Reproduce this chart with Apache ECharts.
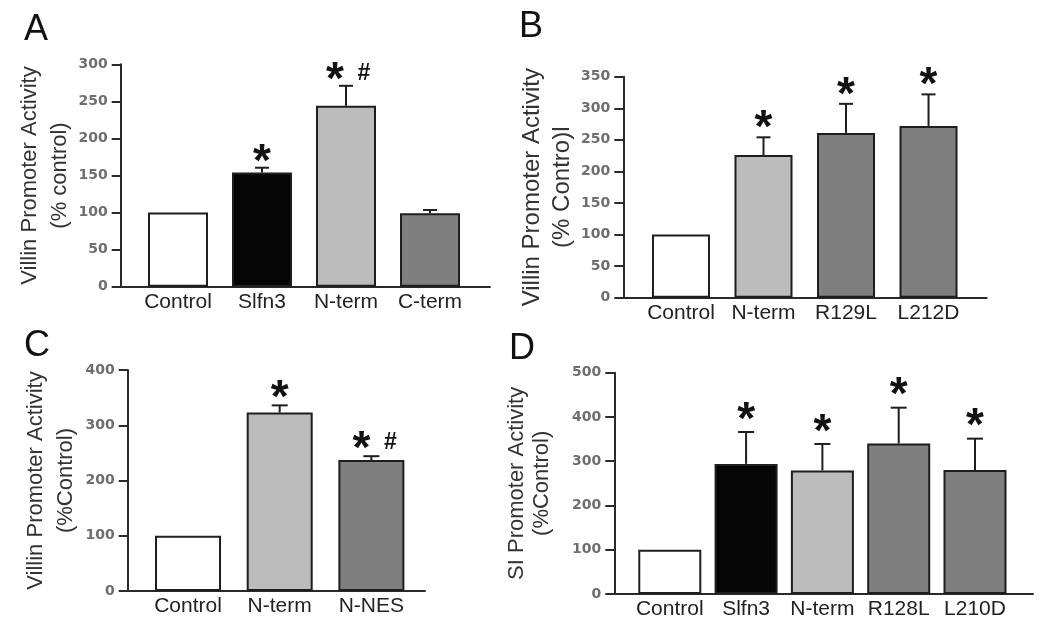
<!DOCTYPE html>
<html><head><meta charset="utf-8">
<script src="https://cdn.jsdelivr.net/npm/echarts@6/dist/echarts.min.js"></script>
<style>html,body{margin:0;padding:0;background:#fff}#c{width:1050px;height:621px}</style>
</head><body><div id="c"></div>
<script>
// ---------- data ----------
const catsA = ['Control', 'Slfn3', 'N-term', 'C-term'];
const meanA = [100, 154, 244, 99];
const semA  = [0, 6.5, 27, 4.5];
const sigA  = ['', '*', '*#', ''];
const ticksA = [0, 50, 100, 150, 200, 250, 300];

const catsB = ['Control', 'N-term', 'R129L', 'L212D'];
const meanB = [100, 226, 261, 272];
const semB  = [0, 28, 46, 50];
const sigB  = ['', '*', '*', '*'];
const ticksB = [0, 50, 100, 150, 200, 250, 300, 350];

const catsC = ['Control', 'N-term', 'N-NES'];
const meanC = [100, 323, 237];
const semC  = [0, 13, 7];
const sigC  = ['', '*', '*#'];
const ticksC = [0, 100, 200, 300, 400];

const catsD = ['Control', 'Slfn3', 'N-term', 'R128L', 'L210D'];
const meanD = [100, 294, 279, 340, 280];
const semD  = [0, 72, 60, 81, 71];
const sigD  = ['', '*', '*', '*', '*'];
const ticksD = [0, 100, 200, 300, 400, 500];

// ---------- styles ----------
const fillOf = {
  'Control': '#ffffff', 'Slfn3': '#050505', 'N-term': '#bcbcbc',
  'C-term': '#7f7f7f', 'R129L': '#7f7f7f', 'L212D': '#7f7f7f',
  'N-NES': '#7f7f7f', 'R128L': '#7f7f7f', 'L210D': '#7f7f7f'
};
const AX = '#2a2a2a';
const FONT = '"Liberation Sans", Arial, sans-serif';

const panels = [
  { letter: 'A', cats: catsA, mean: meanA, sem: semA, sig: sigA, ticks: ticksA,
    L: 120.7, R: 490, T: 64.3, B: 286.7, xMin: -0.682, xMax: 3.714,
    barW: 60, capW: 14, sigDy: -15, starDx: -11, hashDx: 18,
    name: 'Villin Promoter Activity\n(% control)', nameSize: 22, nameLH: 30, nameGap: 44,
    letterPos: [24, 12] },
  { letter: 'B', cats: catsB, mean: meanB, sem: semB, sig: sigB, ticks: ticksB,
    L: 623.3, R: 986.7, T: 76.7, B: 297.7, xMin: -0.699, xMax: 3.705,
    barW: 58, capW: 14, sigDy: -19, starDx: 0, hashDx: 0,
    name: 'Villin Promoter Activity\n(% Contro)l', nameSize: 24, nameLH: 30, nameGap: 46,
    letterPos: [519, 9] },
  { letter: 'C', cats: catsC, mean: meanC, sem: semC, sig: sigC, ticks: ticksC,
    L: 127.7, R: 425, T: 370, B: 591, xMin: -0.658, xMax: 2.585,
    barW: 66, capW: 16, sigDy: -17, starDx: -10, hashDx: 19,
    name: 'Villin Promoter Activity\n(%Control)', nameSize: 22, nameLH: 30, nameGap: 47,
    letterPos: [24, 328] },
  { letter: 'D', cats: catsD, mean: meanD, sem: semD, sig: sigD, ticks: ticksD,
    L: 614.3, R: 1033, T: 372.7, B: 594, xMin: -0.727, xMax: 4.76,
    barW: 63, capW: 16, sigDy: -22, starDx: 0, hashDx: 0,
    name: 'SI Promoter Activity\n(%Control)', nameSize: 22, nameLH: 25, nameGap: 60,
    letterPos: [509, 331] }
];

const option = { animation: false, backgroundColor: '#fff',
  title: [], grid: [], xAxis: [], yAxis: [], series: [] };

panels.forEach((p, k) => {
  option.title.push({ text: p.letter, left: p.letterPos[0], top: p.letterPos[1], padding: 0,
    textStyle: { fontFamily: FONT, fontSize: 36, fontWeight: 'normal', color: '#111' } });
  option.grid.push({ left: p.L, top: p.T, width: p.R - p.L, height: p.B - p.T, containLabel: false });
  const idx = p.cats.map((c, i) => i);
  option.xAxis.push({
    type: 'value', gridIndex: k, min: p.xMin, max: p.xMax,
    axisLine: { show: true, onZero: false, lineStyle: { color: AX, width: 2 } },
    axisTick: { show: false }, splitLine: { show: false },
    axisLabel: {
      customValues: idx, margin: 5, fontFamily: FONT, fontSize: 21, color: '#222',
      formatter: v => p.cats[Math.round(v)] || ''
    }
  });
  const ticks = p.ticks;
  option.yAxis.push({
    type: 'value', gridIndex: k, min: ticks[0], max: ticks[ticks.length - 1],
    interval: ticks[1] - ticks[0],
    name: p.name, nameLocation: 'middle', nameRotate: 90, nameGap: p.nameGap,
    nameTextStyle: { fontFamily: FONT, fontSize: p.nameSize, lineHeight: p.nameLH, color: '#333' },
    axisLine: { show: true, onZero: false, lineStyle: { color: AX, width: 2 } },
    axisTick: { show: true, length: 9, lineStyle: { color: AX, width: 2 } },
    splitLine: { show: false },
    axisLabel: { margin: 13, fontFamily: '"DejaVu Sans", sans-serif', fontWeight: 'bold', fontSize: 14, color: '#6e6e6e' }
  });
  option.series.push({
    type: 'bar', xAxisIndex: k, yAxisIndex: k, barWidth: p.barW,
    data: p.mean.map((m, i) => ({ value: [i, m],
      itemStyle: { color: fillOf[p.cats[i]], borderColor: '#1e1e1e', borderWidth: 2 } })),
    z: 2
  });
  option.series.push({
    type: 'custom', xAxisIndex: k, yAxisIndex: k, z: 5, clip: false,
    data: p.mean.map((m, i) => [i, m, p.sem[i]]),
    renderItem: (params, api) => {
      const x = api.value(0), m = api.value(1), e = api.value(2);
      const s = p.sig[params.dataIndex];
      const base = api.coord([x, m]);
      const top = api.coord([x, m + e]);
      const ch = [];
      if (e > 0) {
        ch.push({ type: 'line', shape: { x1: base[0], y1: base[1], x2: top[0], y2: top[1] },
          style: { stroke: '#1e1e1e', lineWidth: 2 } });
        ch.push({ type: 'line', shape: { x1: top[0] - p.capW / 2, y1: top[1], x2: top[0] + p.capW / 2, y2: top[1] },
          style: { stroke: '#1e1e1e', lineWidth: 2 } });
      }
      const hasHash = s.indexOf('#') >= 0;
      const cy = top[1] + p.sigDy;
      if (s.indexOf('*') >= 0) {
        ch.push({ type: 'text', x: top[0] + (hasHash ? p.starDx : 0), y: cy + 11,
          style: { text: '*', font: 'bold 46px ' + FONT, fill: '#111', align: 'center', verticalAlign: 'middle' } });
      }
      if (hasHash) {
        ch.push({ type: 'text', x: top[0] + p.hashDx, y: cy + 3,
          style: { text: '#', font: 'bold 23px ' + FONT, fill: '#111', align: 'center', verticalAlign: 'middle' } });
      }
      return { type: 'group', children: ch };
    }
  });
});

const chart = echarts.init(document.getElementById('c'), null, { renderer: 'canvas' });
chart.setOption(option);
</script>
</body></html>
